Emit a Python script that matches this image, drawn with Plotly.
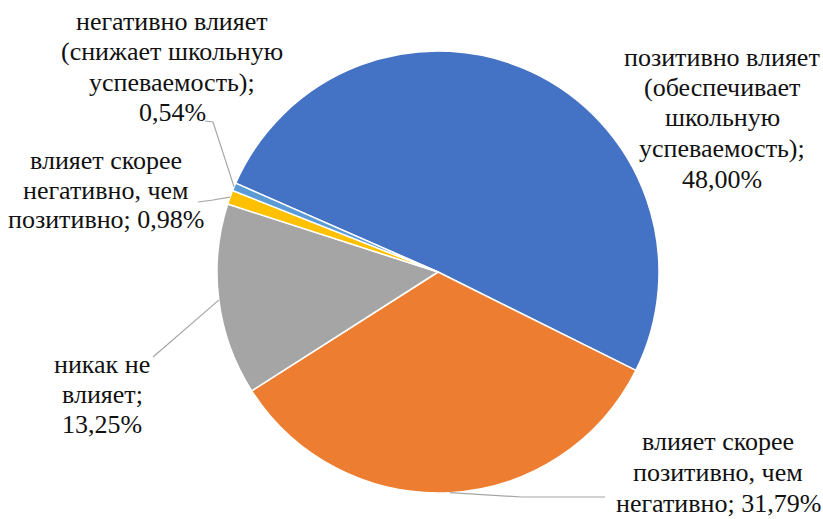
import math
import plotly.graph_objects as go

# ---- data ----
categories = [
    "позитивно влияет (обеспечивает школьную успеваемость)",
    "влияет скорее позитивно, чем негативно",
    "никак не влияет",
    "влияет скорее негативно, чем позитивно",
    "негативно влияет (снижает школьную успеваемость)",
]
values = [48.00, 31.79, 13.25, 0.98, 0.54]
colors = ["#4472C4", "#ED7D31", "#A5A5A5", "#FFC000", "#5B9BD5"]

# words per line for each label (layout)
words_per_line = [[2, 1, 1, 1, 1], [2, 2, 2], [2, 1, 1], [2, 2, 2], [2, 2, 1, 1]]
# label block positions in pixels (center x, first line center y, line step)
label_pos = [(722, 57, 30.5), (718, 441, 31), (102, 364, 30), (106, 161, 29), (172, 21, 30.5)]

W, H = 823, 519
CX, CY, R = 438, 272, 221
ROT = -66.3
FONT = "Times New Roman, Liberation Serif, DejaVu Serif, serif"

def px(x):
    return x / W

def py(y):
    return 1 - y / H

fig = go.Figure(go.Pie(
    labels=categories,
    values=values,
    sort=False,
    direction="clockwise",
    rotation=ROT,
    marker=dict(colors=colors, line=dict(color="white", width=1.5)),
    textinfo="none",
    hoverinfo="label+value",
    showlegend=False,
    domain=dict(x=[px(CX - R), px(CX + R)], y=[py(CY + R), py(CY - R)]),
))

# label text from data
annotations = []
for i, (cat, v) in enumerate(zip(categories, values)):
    txt = f"{cat}; " + f"{v:.2f}".replace(".", ",") + "%"
    words = txt.split(" ")
    lines = []
    k = 0
    for n in words_per_line[i]:
        lines.append(" ".join(words[k:k + n]))
        k += n
    cx, y0, step = label_pos[i]
    for j, ln in enumerate(lines):
        annotations.append(dict(
            text=ln, x=px(cx), y=py(y0 + j * step), xref="paper", yref="paper",
            xanchor="center", yanchor="middle", showarrow=False,
            font=dict(family=FONT, size=26, color="#111111"),
        ))

# leader lines: anchor on slice edge computed from data
total = sum(values)
def edge_point(i):
    cum = sum(values[:i]) + values[i] / 2
    phi = math.radians(ROT + 360 * cum / total)
    return CX + R * math.sin(phi), CY - R * math.cos(phi)

leader_paths = {
    1: [(522, 497), (605, 497)],
    2: [(153, 357)],
    3: [(213, 200), (198, 202)],
    4: [(213, 122), (205, 121)],
}
shapes = []
for i, pts in leader_paths.items():
    ex, ey = edge_point(i)
    seq = [(ex, ey)] + pts
    path = "M " + " L ".join(f"{px(x):.5f},{py(y):.5f}" for x, y in seq)
    shapes.append(dict(type="path", path=path, xref="paper", yref="paper",
                       line=dict(color="#A6A6A6", width=1.2)))

fig.update_layout(
    width=W, height=H,
    margin=dict(l=0, r=0, t=0, b=0),
    paper_bgcolor="white", plot_bgcolor="white",
    font=dict(family=FONT),
    annotations=annotations, shapes=shapes,
)

fig.write_html("out.html", config={"displayModeBar": False},
               post_script="document.body.style.margin='0';document.body.style.padding='0';")
